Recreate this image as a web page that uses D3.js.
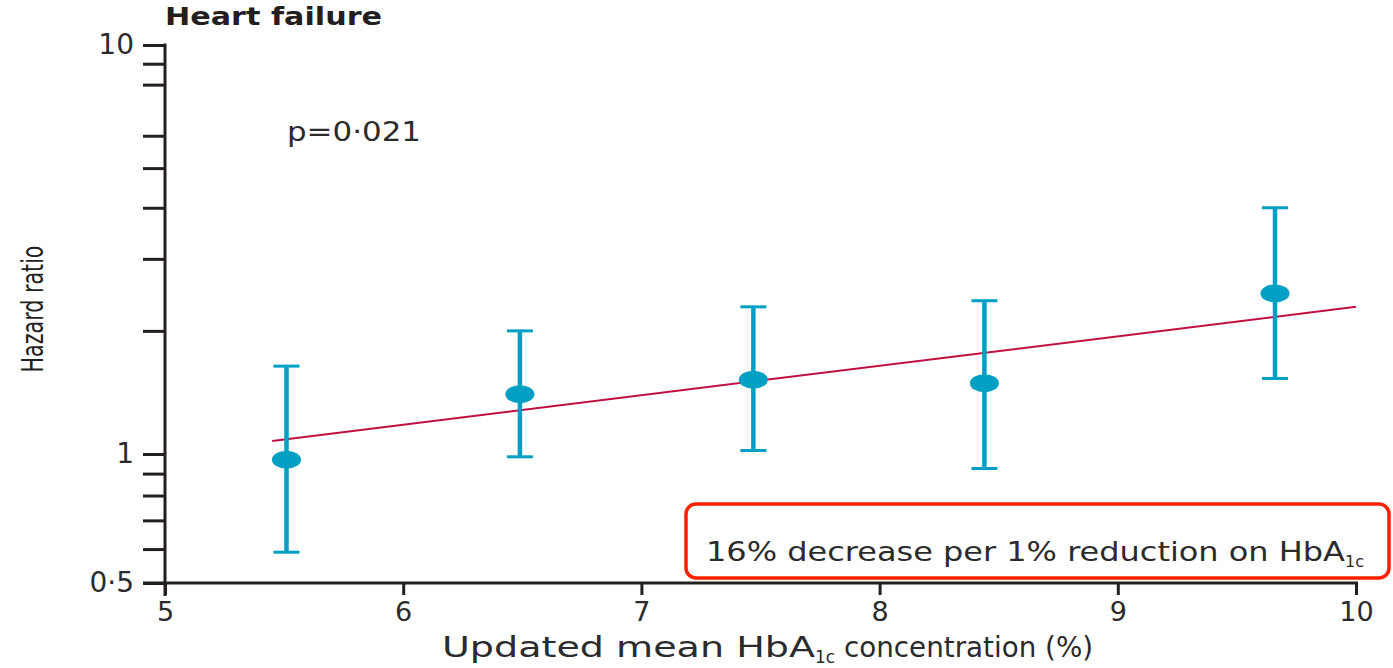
<!DOCTYPE html>
<html>
<head>
<meta charset="utf-8">
<script src="https://cdn.jsdelivr.net/npm/d3@7"></script>
<style>
  body { margin: 0; background: #fff; }
  svg { display: block; font-family: "DejaVu Sans", "Noto Sans", sans-serif; }
</style>
</head>
<body>
<div id="chart"></div>
<script>
// HbA1c category midpoints and hazard ratios (with 95% CI)
const hba1c = [5.51, 6.49, 7.47, 8.44, 9.66];
const hazard = [0.97, 1.40, 1.52, 1.49, 2.47];
const ciLow = [0.59, 0.985, 1.02, 0.925, 1.53];
const ciHigh = [1.64, 2.00, 2.29, 2.37, 4.00];

// fitted trend line (log-linear)
const trendX = [5.45, 10];
const trendHR = [1.076, 2.29];

const xTicks = [5, 6, 7, 8, 9, 10];
const yTicks = [10, 9, 8, 6, 5, 4, 3, 2, 1, 0.9, 0.8, 0.7, 0.6, 0.5];
const yLabels = { 10: "10", 1: "1", 0.5: "0·5" };

const width = 1393, height = 668;
const blue = "#00a0c4", red = "#c0103f", ink = "#231f20", txt = "#2b2b2b";
const font = "DejaVu Sans, sans-serif";

const svg = d3.select("#chart").append("svg")
  .attr("width", width)
  .attr("height", height);

const x = d3.scaleLinear().domain([5, 10]).range([165, 1356]);
// piecewise log scale (the source figure is slightly stretched below 1)
const y = d3.scaleLog().domain([0.5, 1, 10]).range([583, 454, 45]);

// Y axis
const yAxis = svg.append("g")
  .attr("transform", "translate(165,0)")
  .call(d3.axisLeft(y)
    .tickValues(yTicks)
    .tickSize(22)
    .tickPadding(9)
    .tickFormat(d => yLabels[d] || ""));
yAxis.select(".domain").remove();
yAxis.selectAll(".tick line").attr("stroke", ink).attr("stroke-width", 3);
yAxis.selectAll(".tick text")
  .attr("fill", txt)
  .style("font-size", "28px")
  .style("font-family", font);

svg.append("line")
  .attr("x1", 165).attr("x2", 165)
  .attr("y1", y(10) - 1.5).attr("y2", 596)
  .attr("stroke", ink).attr("stroke-width", 3);

// X axis
const xAxis = svg.append("g")
  .attr("transform", `translate(0,${y(0.5)})`)
  .call(d3.axisBottom(x).tickValues(xTicks).tickSize(12).tickPadding(7)
    .tickFormat(d3.format("d")));
xAxis.select(".domain").remove();
xAxis.selectAll(".tick line").attr("stroke", ink).attr("stroke-width", 3);
xAxis.selectAll(".tick text")
  .attr("fill", txt)
  .style("font-size", "27px")
  .style("font-family", font);

svg.append("line")
  .attr("x1", 143).attr("x2", x(10) + 2)
  .attr("y1", y(0.5)).attr("y2", y(0.5))
  .attr("stroke", ink).attr("stroke-width", 3);

// Trend line
svg.append("path")
  .datum(d3.zip(trendX, trendHR))
  .attr("fill", "none")
  .attr("stroke", red)
  .attr("stroke-width", 2)
  .attr("d", d3.line().x(d => x(d[0])).y(d => y(d[1])));

// Error bars + points
const pts = svg.append("g").selectAll("g")
  .data(d3.range(hba1c.length))
  .join("g");

pts.append("line")
  .attr("x1", i => x(hba1c[i])).attr("x2", i => x(hba1c[i]))
  .attr("y1", i => y(ciHigh[i])).attr("y2", i => y(ciLow[i]))
  .attr("stroke", blue).attr("stroke-width", 4.5);

pts.selectAll(".cap")
  .data(i => [[hba1c[i], ciHigh[i]], [hba1c[i], ciLow[i]]])
  .join("line")
  .attr("class", "cap")
  .attr("x1", d => x(d[0]) - 13).attr("x2", d => x(d[0]) + 13)
  .attr("y1", d => y(d[1])).attr("y2", d => y(d[1]))
  .attr("stroke", blue).attr("stroke-width", 3);

pts.append("ellipse")
  .attr("cx", i => x(hba1c[i]))
  .attr("cy", i => y(hazard[i]))
  .attr("rx", 14.5).attr("ry", 9)
  .attr("fill", blue);

// Title and annotations (the source font is wide, so stretch to its widths)
svg.append("text")
  .attr("x", 165).attr("y", 25)
  .attr("fill", ink)
  .attr("textLength", 217)
  .attr("lengthAdjust", "spacingAndGlyphs")
  .style("font-size", "24px")
  .style("font-weight", "bold")
  .text("Heart failure");

svg.append("text")
  .attr("x", 287).attr("y", 141)
  .attr("fill", txt)
  .attr("textLength", 134)
  .attr("lengthAdjust", "spacingAndGlyphs")
  .style("font-size", "27px")
  .text("p=0·021");

svg.append("text")
  .attr("transform", "translate(43,309) rotate(-90)")
  .attr("text-anchor", "middle")
  .attr("fill", ink)
  .attr("textLength", 127)
  .attr("lengthAdjust", "spacingAndGlyphs")
  .style("font-family", "'Liberation Sans Narrow', 'DejaVu Sans Condensed', sans-serif")
  .style("font-size", "30px")
  .text("Hazard ratio");

const xl = svg.append("text")
  .attr("x", 442).attr("y", 657)
  .attr("fill", txt)
  .style("font-size", "29px");
xl.append("tspan")
  .attr("textLength", 373).attr("lengthAdjust", "spacingAndGlyphs")
  .text("Updated mean HbA");
xl.append("tspan").attr("dy", 6).style("font-size", "17px").text("1c");
xl.append("tspan").attr("dy", -6)
  .attr("textLength", 258).attr("lengthAdjust", "spacingAndGlyphs")
  .text(" concentration (%)");

// Highlight box
svg.append("rect")
  .attr("x", 686).attr("y", 504)
  .attr("width", 703).attr("height", 74)
  .attr("rx", 10)
  .attr("fill", "#fff")
  .attr("stroke", "#ff2200")
  .attr("stroke-width", 3.5);

const note = svg.append("text")
  .attr("x", 706).attr("y", 561)
  .attr("fill", txt)
  .style("font-size", "27px");
note.append("tspan")
  .attr("textLength", 639).attr("lengthAdjust", "spacingAndGlyphs")
  .text("16% decrease per 1% reduction on HbA");
note.append("tspan").attr("dy", 6).style("font-size", "16px").text("1c");
</script>
</body>
</html>
